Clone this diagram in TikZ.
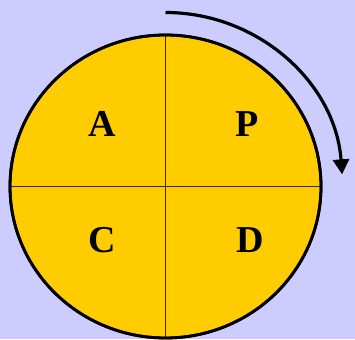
\documentclass[tikz,border=0pt]{standalone}
\usepackage{fontspec}
\setmainfont{Liberation Serif}
\usepackage{xcolor}
\definecolor{cBack}{HTML}{CCCCFF}
\definecolor{cFill}{HTML}{FFCC00}
\definecolor{cLine}{HTML}{332B00}
\usetikzlibrary{positioning,arrows.meta,shapes.geometric}
\tikzset{
  node-wheel/.style={draw=black,line width=2.8pt,ellipse,fill=cFill,
    minimum width=311pt,minimum height=303pt,inner sep=0pt},
  node-letter/.style={font=\fontsize{38}{40}\selectfont\bfseries,inner sep=0pt},
  divider/.style={draw=cLine,line width=1.5pt},
  arrow-cycle/.style={-{Triangle[length=15pt,width=16pt]},line width=3.2pt,draw=black},
}

\begin{document}
\begin{tikzpicture}[x=1pt,y=1pt]
  \fill[cBack] (0,0) rectangle (355,339);
  \useasboundingbox (0,0) rectangle (355,339);

  \node[node-wheel] (wheel) at (165.5,152.5) {};
  \draw[divider] (wheel.north) -- (wheel.south);
  \draw[divider] (wheel.west) -- (wheel.east);
  % outline once more over the dividers
  \draw[line width=2.8pt] (wheel.center) ellipse[x radius=155.5,y radius=151.5];

  \node[node-letter] (act) at (102,215) {A};
  \node[node-letter] (plan) at (247.5,215) {P};
  \node[node-letter] (check) at (102.5,98.5) {C};
  \node[node-letter] (do) at (250,98.5) {D};

  \coordinate (cycle-start) at (165.5,326.5);
  \draw[arrow-cycle] (cycle-start) arc[start angle=90,end angle=4,x radius=177,y radius=174];
\end{tikzpicture}
\end{document}
